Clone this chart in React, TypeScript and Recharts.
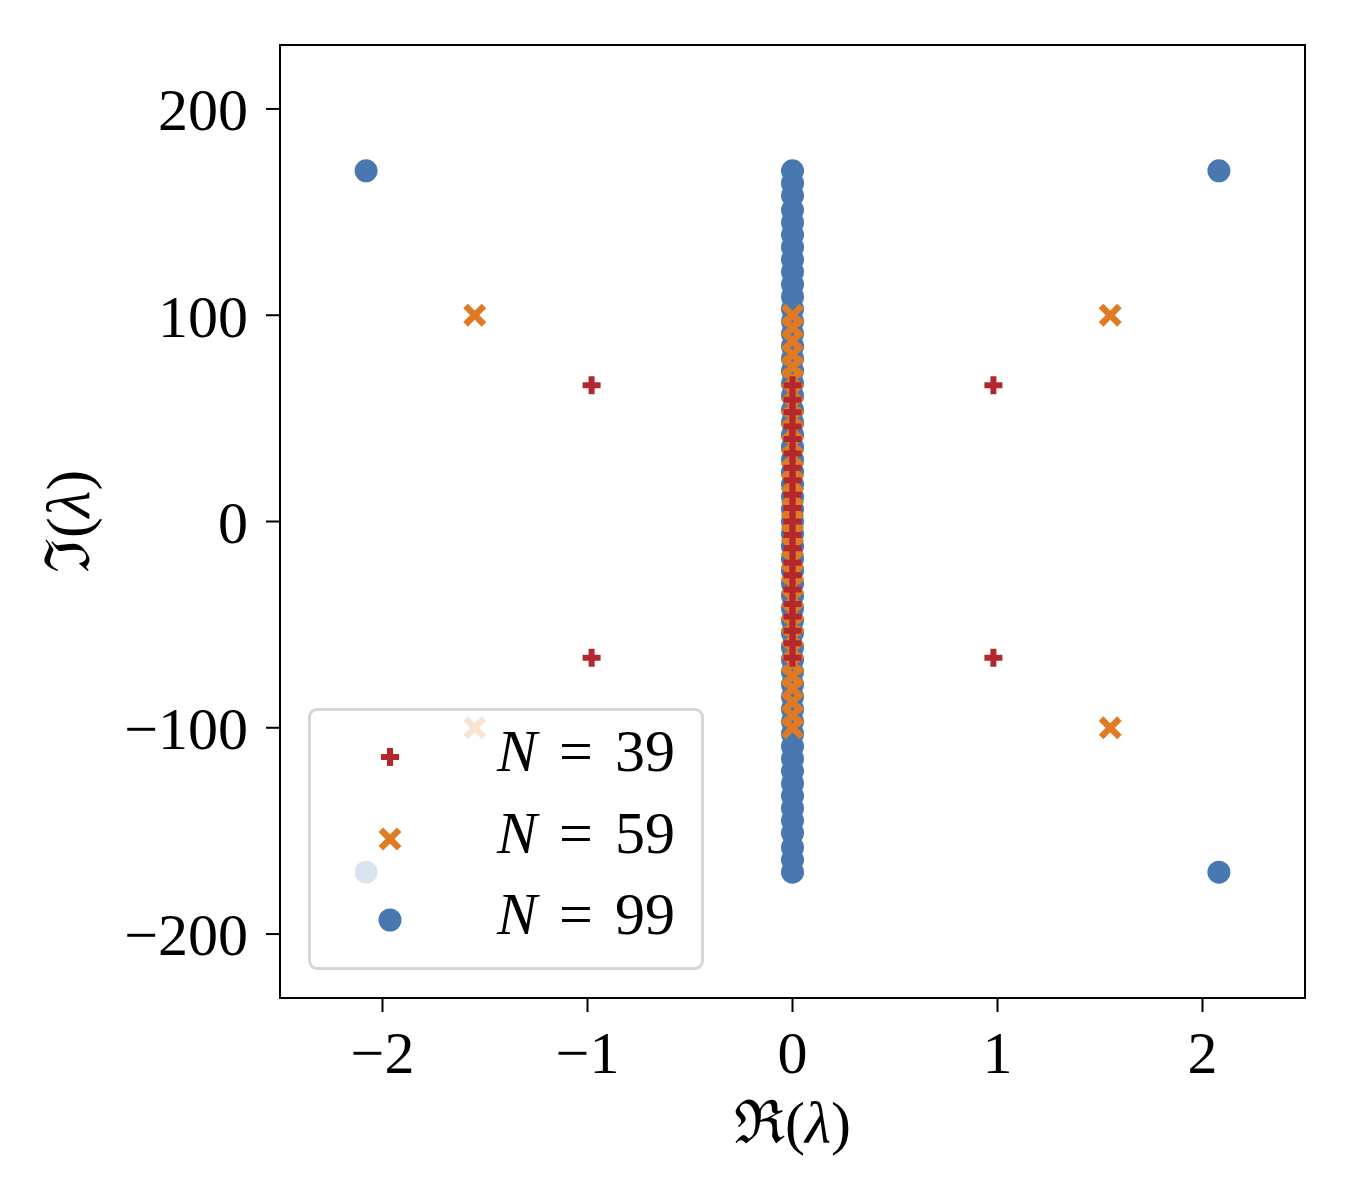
import React from "react";
import { ScatterChart, Scatter, XAxis, YAxis, ReferenceArea, Legend } from "recharts";

// ============[ DATA ]============
const xTicks = [-2, -1, 0, 1, 2];
const yTicks = [-200, -100, 0, 100, 200];

// eigenvalues sitting on the imaginary axis (Re = 0)
const n39Axis = [-66, -59, -53, -46, -40, -33, -26, -20, -13, -6.6, 0, 6.6, 13, 20, 26, 33, 40, 46, 53, 59, 66];
const n59Axis = [
  -100, -94, -87.5, -81, -75, -69, -62.5, -56, -50, -44, -37.5, -31, -25, -19, -12.5, -6, 0,
  6, 12.5, 19, 25, 31, 37.5, 44, 50, 56, 62.5, 69, 75, 81, 87.5, 94, 100,
];
const n99Axis = [
  -170, -164, -158, -151, -145, -139, -133, -127, -121, -115, -109, -103, -97, -91, -85, -79, -73, -67, -61,
  -54, -48, -42, -36, -30, -24, -18, -12, -6, 0, 6, 12, 18, 24, 30, 36, 42, 48, 54, 61, 67, 73, 79, 85, 91,
  97, 103, 109, 115, 121, 127, 133, 139, 145, 151, 158, 164, 170,
];

// off-axis eigenvalues [Re, Im]
const n39Outliers = [[-0.98, 66], [0.98, 66], [-0.98, -66], [0.98, -66]];
const n59Outliers = [[-1.55, 100], [1.55, 100], [-1.55, -100], [1.55, -100]];
const n99Outliers = [[-2.08, 170], [2.08, 170], [-2.08, -170], [2.08, -170]];

const toPoints = (axis: number[], outliers: number[][]) => [
  ...axis.map((y) => ({ x: 0, y })),
  ...outliers.map(([x, y]) => ({ x, y })),
];

const RED = "#b3282d";
const ORANGE = "#e07b24";
const BLUE = "#4977b0";
const FONT = "'Liberation Serif', 'DejaVu Serif', serif";

// ============[ MARKERS ]============
const PlusMark = ({ cx, cy }: any) => (
  <polygon
    transform={`translate(${cx},${cy})`}
    points="-3,-9 3,-9 3,-3 9,-3 9,3 3,3 3,9 -3,9 -3,3 -9,3 -9,-3 -3,-3"
    fill={RED}
  />
);

const CrossMark = ({ cx, cy }: any) => (
  <g transform={`translate(${cx},${cy})`}>
    <rect x={-13} y={-3.25} width={26} height={6.5} fill={ORANGE} transform="rotate(45)" />
    <rect x={-13} y={-3.25} width={26} height={6.5} fill={ORANGE} transform="rotate(-45)" />
  </g>
);

const DotMark = ({ cx, cy }: any) => <circle cx={cx} cy={cy} r={11.5} fill={BLUE} />;

const legendRows = [
  { label: "39", Mark: PlusMark },
  { label: "59", Mark: CrossMark },
  { label: "99", Mark: DotMark },
];

const LegendBox = () => (
  <div
    style={{
      width: 396,
      height: 262,
      boxSizing: "border-box",
      border: "3px solid #d6d6d6",
      borderRadius: 9,
      background: "rgba(255,255,255,0.8)",
      position: "relative",
      fontFamily: FONT,
      fontSize: 60,
      color: "#000",
    }}
  >
    {legendRows.map((row, i) => (
      <div key={i} style={{ position: "absolute", left: 0, top: 5 + i * 81.5, height: 82, width: "100%" }}>
        <svg width={40} height={40} style={{ position: "absolute", left: 59, top: 21 }}>
          <row.Mark cx={20} cy={20} />
        </svg>
        <span style={{ position: "absolute", left: 186, top: 0, lineHeight: "70px", whiteSpace: "nowrap" }}>
          <i>N</i>
          <span style={{ margin: "0 22px" }}>=</span>
          {row.label}
        </span>
      </div>
    ))}
  </div>
);

const fmt = (v: number) => String(v).replace("-", "\u2212");

const XLabel = ({ viewBox }: any) => (
  <text x={viewBox.x + viewBox.width / 2} y={viewBox.y + 145} textAnchor="middle" fontSize={60} fontFamily={FONT} fill="#000">
    ℜ(<tspan fontStyle="italic">λ</tspan>)
  </text>
);

const YLabel = ({ viewBox }: any) => {
  const cy = viewBox.y + viewBox.height / 2;
  return (
    <text x={89} y={cy} transform={`rotate(-90, 89, ${cy})`} textAnchor="middle" fontSize={62} fontFamily={FONT} fill="#000">
      ℑ(<tspan fontStyle="italic">λ</tspan>)
    </text>
  );
};

export default function App() {
  const tickStyle = { fill: "#000", fontSize: 60, fontFamily: FONT };
  return (
    <div style={{ position: "absolute", left: 0, top: 0, width: 1350, height: 1200, background: "#fff" }}>
      <ScatterChart width={1350} height={1200} margin={{ top: 45, right: 45, bottom: 0, left: 0 }}>
        <XAxis
          type="number"
          dataKey="x"
          domain={[-2.5, 2.5]}
          ticks={xTicks}
          allowDataOverflow
          height={202}
          tick={tickStyle}
          tickFormatter={fmt}
          tickSize={14}
          tickMargin={18}
          axisLine={{ stroke: "#000", strokeWidth: 2 }}
          tickLine={{ stroke: "#000", strokeWidth: 2 }}
          label={{ content: XLabel }}
        />
        <YAxis
          type="number"
          dataKey="y"
          domain={[-231, 231]}
          ticks={yTicks}
          allowDataOverflow
          width={280}
          tick={tickStyle}
          tickFormatter={fmt}
          tickSize={14}
          tickMargin={18}
          axisLine={{ stroke: "#000", strokeWidth: 2 }}
          tickLine={{ stroke: "#000", strokeWidth: 2 }}
          label={{ content: YLabel }}
        />
        <ReferenceArea x1={-2.5} x2={2.5} y1={-231} y2={231} fill="none" fillOpacity={0} stroke="#000" strokeWidth={2} />
        <Scatter name="N = 99" data={toPoints(n99Axis, n99Outliers)} shape={DotMark} isAnimationActive={false} />
        <Scatter name="N = 59" data={toPoints(n59Axis, n59Outliers)} shape={CrossMark} isAnimationActive={false} />
        <Scatter name="N = 39" data={toPoints(n39Axis, n39Outliers)} shape={PlusMark} isAnimationActive={false} />
        <Legend
          layout="horizontal"
          align="center"
          verticalAlign="middle"
          content={LegendBox}
          wrapperStyle={{ left: 308, top: 708, width: 396, height: 262 }}
        />
      </ScatterChart>
    </div>
  );
}
